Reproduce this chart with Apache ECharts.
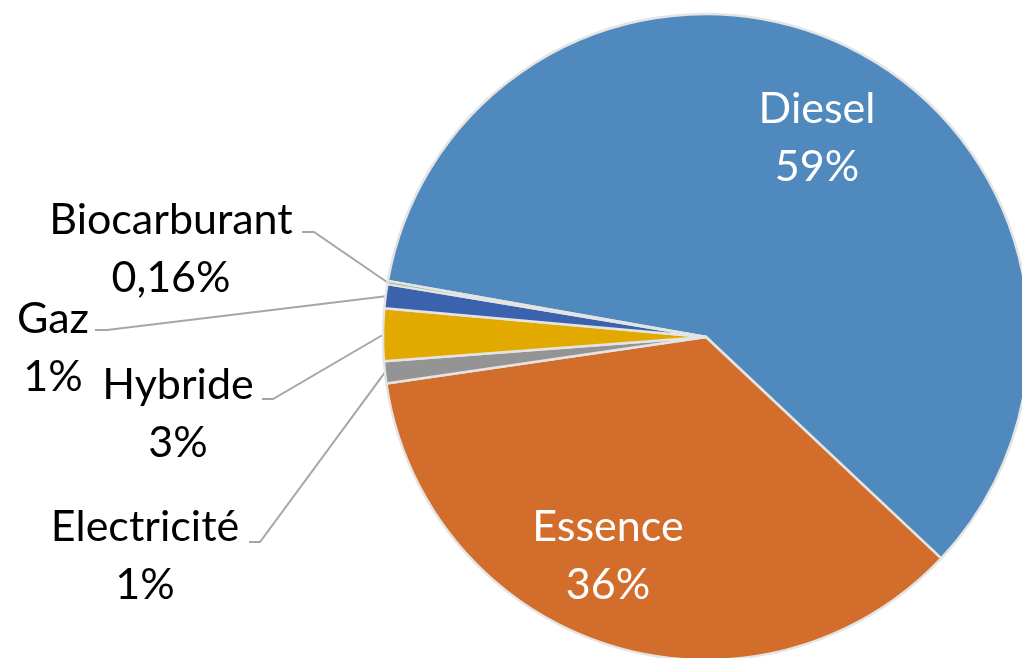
<!DOCTYPE html>
<html>
<head>
<meta charset="utf-8">
<script src="https://cdn.jsdelivr.net/npm/echarts@6/dist/echarts.min.js"></script>
<style>
html, body { margin: 0; padding: 0; background: #fff; }
#chart { width: 1022px; height: 658px; }
</style>
</head>
<body>
<div id="chart"></div>
<script>
// data
var categories = ['Diesel', 'Essence', 'Electricité', 'Hybride', 'Gaz', 'Biocarburant'];
var values = [59.1, 35.6, 1.1, 2.6, 1.2, 0.16];
var pctLabels = ['59%', '36%', '1%', '3%', '1%', '0,16%'];

var colors = ['#4F89BD', '#D36D2B', '#949494', '#E2AA00', '#3B62AD', '#70AD47'];
// label block centres + leader line elbows (px)
var labelPos = [[817, 138], [608, 556], [145, 556], [178, 414], [53, 348], [171, 249]];
var elbows = [null, null,
  [[249, 542], [260, 542]],
  [[262, 399], [273, 399]],
  [[95, 330], [107, 330]],
  [[302, 232], [314, 232]]];

var myChart = echarts.init(document.getElementById('chart'));

var pieData = categories.map(function (name, i) {
  var item = { name: name, value: values[i], itemStyle: { color: colors[i] } };
  if (i < 2) {
    item.label = { color: '#fff' };
    item.labelLine = { show: false };
  }
  return item;
});

myChart.setOption({
  animation: false,
  series: [{
    type: 'pie',
    center: [706, 337],
    radius: 323,
    startAngle: 170,
    clockwise: true,
    avoidLabelOverlap: false,
    itemStyle: { borderColor: '#e4e4e4', borderWidth: 2.5 },
    label: {
      show: true,
      position: 'outside',
      fontFamily: 'Lato',
      fontSize: 43,
      lineHeight: 58,
      color: '#000',
      align: 'center',
      formatter: function (p) { return p.name + '\n' + pctLabels[p.dataIndex]; }
    },
    labelLine: {
      show: true,
      length: 10,
      length2: 10,
      lineStyle: { color: '#a6a6a6', width: 2 }
    },
    labelLayout: function (p) {
      var i = p.dataIndex;
      var out = { x: labelPos[i][0], y: labelPos[i][1], align: 'center', verticalAlign: 'middle' };
      if (elbows[i] && p.labelLinePoints) {
        out.labelLinePoints = [p.labelLinePoints[0], elbows[i][1], elbows[i][0]];
      }
      return out;
    },
    emphasis: { disabled: true },
    data: pieData
  }]
});
</script>
</body>
</html>
